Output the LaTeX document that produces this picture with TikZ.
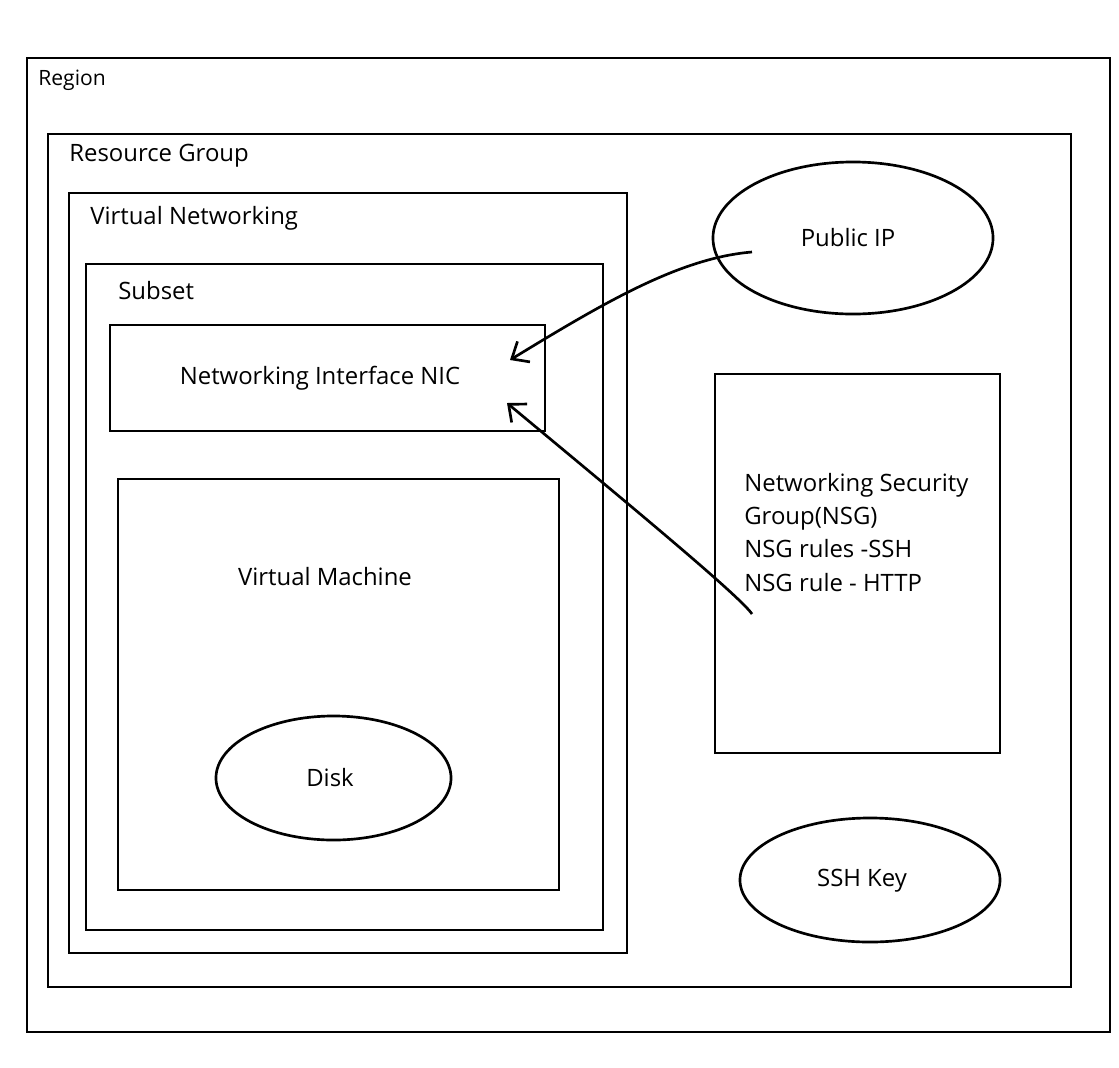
\documentclass[tikz,border=0pt]{standalone}
\usepackage{fontspec}
\setmainfont{Open Sans}
\usetikzlibrary{arrows.meta,shapes.geometric}
\begin{document}
\begin{tikzpicture}[
  x=0.025cm, y=-0.025cm,
  line width=1.9pt,
  every node/.style={font=\fontsize{17}{23.5}\selectfont},
  box/.style={draw, rectangle, inner sep=0pt},
  blob/.style={draw, ellipse, inner sep=0pt},
  lbl/.style={anchor=base west, inner sep=0pt},
  >={Straight Barb[length=3.5mm,width=6mm]}
]
  \useasboundingbox (0,0) rectangle (1119,1067);
  \node[box, minimum width=27.075cm, minimum height=24.35cm] (region) at (568.5,545) {};
  \node[box, minimum width=25.575cm, minimum height=21.325cm] (rg) at (559.5,560.5) {};
  \node[box, minimum width=13.95cm, minimum height=19cm] (vnet) at (348,573) {};
  \node[box, minimum width=12.925cm, minimum height=16.65cm] (subset) at (344.5,597) {};
  \node[box, minimum width=10.875cm, minimum height=2.65cm] (nic) at (327.5,378) {};
  \node[box, minimum width=11.025cm, minimum height=10.275cm] (vm) at (338.5,684.5) {};
  \node[blob, minimum width=5.875cm, minimum height=3.1cm] (disk) at (333.5,778) {};
  \node[blob, minimum width=7cm, minimum height=3.8cm] (pip) at (853,238) {};
  \node[box, minimum width=7.125cm, minimum height=9.475cm] (nsg) at (857.5,563.5) {};
  \node[blob, minimum width=6.5cm, minimum height=3.1cm] (sshkey) at (870,880) {};

  \node[lbl, font=\fontsize{15}{18}\selectfont] (regionlbl) at (37,85) {Region};
  \node[lbl] (rglbl) at (68,161) {Resource Group};
  \node[lbl] (vnetlbl) at (89,224) {Virtual Networking};
  \node[lbl] (subsetlbl) at (117,299) {Subset};
  \node[inner sep=0pt] (niclbl) at (320,378) {Networking Interface NIC};
  \node[inner sep=0pt] (vmlbl) at (325,577) {Virtual Machine};
  \node[inner sep=0pt] (disklbl) at (330,778) {Disk};
  \node[inner sep=0pt] (piplbl) at (848,238) {Public IP};
  \node[inner sep=0pt] (sshkeylbl) at (862,881) {SSH Key};
  \node[lbl, align=left] (nsglbl) at (743,591) {Networking Security\\Group(NSG)\\NSG rules -SSH\\NSG rule - HTTP};

  \coordinate (ipout) at (752,252);
  \coordinate (nicin) at (510,360);
  \coordinate (nsgout) at (752,614);
  \coordinate (nicin2) at (507,403);
  \draw[->] (ipout) .. controls (680,258) and (605,302) .. (nicin);
  \draw[->] (nsgout) .. controls (740,596) and (620,497) .. (nicin2);
\end{tikzpicture}
\end{document}
